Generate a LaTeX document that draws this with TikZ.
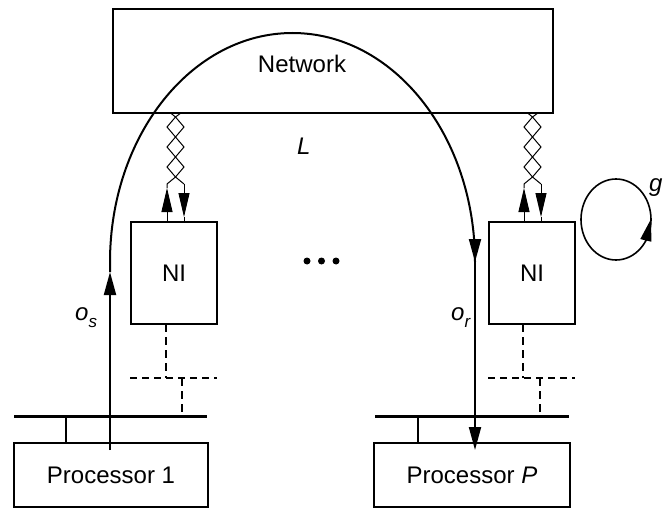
\documentclass[tikz,border=0pt]{standalone}
\usepackage{fontspec}
\setmainfont{Liberation Sans}
\usetikzlibrary{arrows.meta}
\begin{document}
\begin{tikzpicture}[x=1pt,y=1pt,
  box/.style={draw,line width=1.1pt,inner sep=0pt,font=\fontsize{24}{28}\selectfont},
  lbl/.style={font=\fontsize{24}{28}\selectfont,inner sep=0pt},
  flow/.style={line width=2pt},
  bigtip/.style={-{Triangle[length=23pt,width=12pt]}},
  smalltip/.style={-{Triangle[length=24pt,width=11pt]}},
  wire/.style={line width=1pt,line join=miter},
  busline/.style={line width=3pt},
  dshv/.style={dash pattern=on 8pt off 5pt,line width=1.1pt},
  dshh/.style={dash pattern=on 7pt off 5pt,line width=2pt},
  circ/.style={line width=1.6pt},
  dotst/.style={circle,fill,inner sep=0pt,minimum size=7pt},
]
\useasboundingbox (0,0) rectangle (664,-508);

% boxes
\node[box,minimum width=440pt,minimum height=104pt] (net) at (333,-61) {};
\node[lbl] (nettxt) at (302,-63.5) {Network};
\node[box,minimum width=86pt,minimum height=102pt] (nil) at (174,-273) {NI};
\node[box,minimum width=86pt,minimum height=102pt] (nir) at (532,-273) {NI};
\node[box,minimum width=194pt,minimum height=64pt] (p1) at (111,-475) {Processor 1};
\node[box,minimum width=196pt,minimum height=64pt] (pp) at (472,-475) {Processor \textit{P}};

% labels
\node[lbl,anchor=base west] (Llbl) at (297,-155) {\itshape L};
\node[lbl,anchor=base west] (os) at (75,-320) {\itshape o\raisebox{-7pt}{\fontsize{17}{17}\selectfont s}};
\node[lbl,anchor=base west] (or) at (451,-320) {\itshape o\raisebox{-7pt}{\fontsize{17}{17}\selectfont r}};
\node[lbl,anchor=base west] (glbl) at (649,-191) {\itshape g};

% dots
\node[dotst] (d1) at (307,-261) {};
\node[dotst] (d2) at (321.5,-261) {};
\node[dotst] (d3) at (336,-261) {};

% message flow
\coordinate (s0) at (110,-450);
\coordinate (s1) at (110,-272);
\coordinate (s2) at (110,-262);
\coordinate (r0) at (475,-240);
\coordinate (r1) at (475,-262);
\coordinate (r2) at (475,-450);
\draw[flow,bigtip] (s0) -- (s1);
\draw[flow] (s1) -- (s2) arc[start angle=180,end angle=0,x radius=182.5,y radius=229];
\draw[flow,bigtip] (r0) -- (r1);
\draw[flow,bigtip] (r1) -- (r2);

% twisted pairs between NI and network
\foreach \c in {175.5,532.5} {
\begin{scope}[xshift=\c pt]
  \draw[wire,smalltip] (-8.5,-222) -- (-8.5,-188);
  \draw[wire] (-8.5,-188) -- (-8.5,-184) -- (0,-177) -- (8.5,-167) -- (0,-157)
     -- (-8.5,-147) -- (0,-137) -- (8.5,-127) -- (0,-117) -- (-5.5,-112.5);
  \draw[wire] (8.5,-222) -- (8.5,-217);
  \draw[wire,smalltip] (8.5,-184) -- (8.5,-217);
  \draw[wire] (8.5,-184) -- (0,-177) -- (-8.5,-167) -- (0,-157)
     -- (8.5,-147) -- (0,-137) -- (-8.5,-127) -- (0,-117) -- (6,-112.5);
\end{scope}
}

% dashed links and buses
\draw[dshv] (166,-324) -- (166,-378);
\draw[dshh] (130,-378) -- (217,-378);
\draw[dshv] (182,-378) -- (182,-416);
\draw[dshv] (523,-324) -- (523,-378);
\draw[dshh] (488,-378) -- (575,-378);
\draw[dshv] (540,-378) -- (540,-416);

\draw[busline] (14,-416) -- (207,-416);
\draw[busline] (375,-416) -- (569,-416);
\draw[line width=1.1pt] (66,-416) -- (p1.north -| 66,0);
\draw[line width=1.1pt] (418,-416) -- (pp.north -| 418,0);

% gap cycle
\draw[circ] (616,-219.5) ellipse[x radius=35,y radius=40.5];
\coordinate (g0) at (645.7,-241);
\coordinate (g1) at (651,-219);
\draw[circ,-{Triangle[length=22pt,width=11pt]}] (g0) -- (g1);
\end{tikzpicture}
\end{document}
